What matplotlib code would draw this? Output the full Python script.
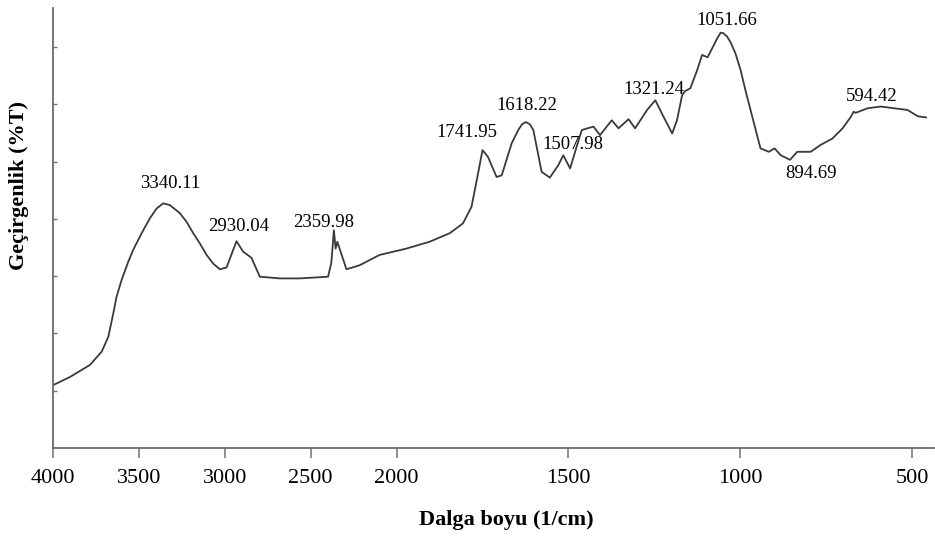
import numpy as np
import matplotlib
matplotlib.use("Agg")
import matplotlib.pyplot as plt

SERIF = ["Liberation Serif", "DejaVu Serif"]
plt.rcParams["font.family"] = SERIF

# Wavenumber (1/cm) and transmittance (arbitrary %T units)
wavenumber = [3998, 3901, 3785, 3717, 3678, 3649, 3630, 3601, 3562, 3533,
              3484, 3436, 3397, 3359, 3320, 3262, 3223, 3184, 3145, 3106,
              3068, 3029, 2990, 2932, 2894, 2845, 2796,
              2680, 2564, 2399, 2380, 2365, 2355, 2345, 2292, 2215, 2099,
              1972, 1904, 1845, 1807, 1782, 1763, 1750, 1734, 1709, 1694,
              1665, 1646, 1635, 1624, 1612, 1602, 1578, 1554, 1529, 1515,
              1495, 1476, 1461, 1427, 1408, 1374, 1354, 1325, 1306, 1271,
              1247, 1223, 1198, 1184, 1169, 1160, 1145, 1125, 1111, 1095,
              1077, 1067, 1057, 1049, 1038, 1028, 1014, 999, 985, 960,
              941, 917, 900, 882, 855, 834,
              795, 766, 732, 702, 678, 670, 664, 629, 591, 552,
              513, 483, 459]
transmittance = [11.0, 12.4, 14.5, 16.8, 19.4, 23.5, 26.4, 29.3, 32.5, 34.6,
                 37.5, 40.1, 41.8, 42.7, 42.4, 41.0, 39.5, 37.5, 35.7, 33.7,
                 32.2, 31.2, 31.5, 36.1, 34.3, 33.2, 29.9,
                 29.6, 29.6, 29.9, 32.3, 38.0, 34.8, 36.0, 31.2, 31.9, 33.7,
                 34.8, 36.0, 37.5, 39.2, 42.1, 47.9, 52.0, 50.8, 47.3, 47.6,
                 53.2, 55.5, 56.5, 56.9, 56.5, 55.5, 48.2, 47.2, 49.4, 51.1,
                 48.8, 52.6, 55.5, 56.1, 54.6, 57.2, 55.8, 57.4, 55.8, 59.0,
                 60.7, 57.8, 54.9, 57.2, 61.6, 62.3, 62.8, 66.0, 68.6, 68.2,
                 70.3, 71.5, 72.5, 72.4, 71.8, 70.8, 68.9, 66.0, 62.5, 56.7,
                 52.3, 51.7, 52.3, 51.1, 50.3, 51.7,
                 51.7, 52.9, 54.0, 55.8, 57.8, 58.7, 58.5, 59.3, 59.6, 59.3,
                 59.0, 57.9, 57.7]

# Peak annotations: label text, label position (wavenumber, transmittance)
peak_labels = ["3340.11", "2930.04", "2359.98", "1741.95", "1618.22",
               "1507.98", "1321.24", "1051.66", "894.69", "594.42"]
label_x = [3320, 2919, 2424, 1796, 1621, 1486, 1250, 1040, 795, 617]
label_y = [46.1, 38.6, 39.4, 55.1, 59.7, 52.9, 62.6, 74.6, 48.0, 61.3]

x_ticks = [4000, 3500, 3000, 2500, 2000, 1500, 1000, 500]
x_tick_labels = ["4000", "3500", "3000", "2500", "2000", "1500", "1000", "500"]
y_ticks = [10, 20, 30, 40, 50, 60, 70]


def fwd(w):
    w = np.asarray(w, dtype=float)
    return np.where(w > 2000, 2000 + (w - 2000) / 2.0, w)


def inv(f):
    f = np.asarray(f, dtype=float)
    return np.where(f > 2000, 2000 + (f - 2000) * 2.0, f)


fig = plt.figure(figsize=(9.35, 5.37), dpi=100)
ax = fig.add_axes([53 / 935, 1 - 448 / 537, (934 - 53) / 935, (448 - 8) / 537])
ax.set_xscale("function", functions=(fwd, inv))

ax.plot(wavenumber, transmittance, color="#3a3a3a", lw=1.3)

for t, x, y in zip(peak_labels, label_x, label_y):
    ax.text(x, y, t, ha="center", va="center", fontsize=13.5,
            family=SERIF, color="black")

ax.set_xlim(4000, 436)
ax.set_ylim(0, 76.8)

ax.set_xticks(x_ticks)
ax.set_xticklabels(x_tick_labels, family=SERIF, fontsize=16)
ax.xaxis.set_minor_locator(matplotlib.ticker.NullLocator())
ax.set_yticks(y_ticks)
ax.set_yticklabels([])
ax.tick_params(axis="x", direction="out", length=7, width=1.1,
               color="#707070", pad=8)
ax.tick_params(axis="y", direction="in", length=3, width=1,
               color="#707070")

for s in ["top", "right"]:
    ax.spines[s].set_visible(False)
for s in ["left", "bottom"]:
    ax.spines[s].set_color("#6a6a6a")
    ax.spines[s].set_linewidth(1.3)

fig.text(506 / 935, 1 - 520 / 537, "Dalga boyu (1/cm)", ha="center",
         va="center", fontsize=16, fontweight="bold", family=SERIF)
fig.text(19 / 935, 1 - 186 / 537, "Geçirgenlik (%T)", ha="center",
         va="center", rotation=90, fontsize=16, fontweight="bold",
         family=SERIF)

fig.savefig("out.png", dpi=100)
